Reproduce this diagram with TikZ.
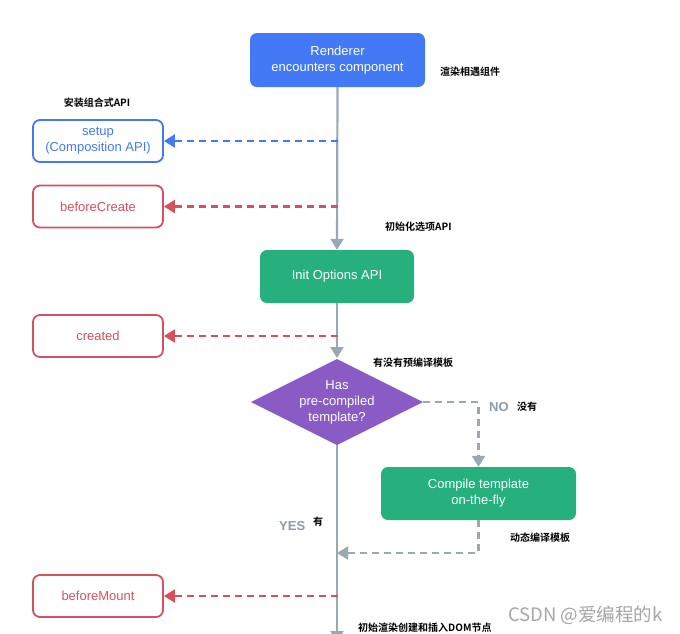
\documentclass[tikz,border=0pt]{standalone}
\usepackage{fontspec}
\setmainfont{Liberation Sans}
\newfontfamily\cjk{Noto Sans CJK SC}[BoldFont={Noto Sans CJK SC Bold}]
\usetikzlibrary{arrows.meta}
\definecolor{cblue}{HTML}{4479F5}
\definecolor{cred}{HTML}{D9505C}
\definecolor{cgreen}{HTML}{26B07E}
\definecolor{cpurple}{HTML}{8A5BC4}
\definecolor{cgray}{HTML}{9AA9B1}
\definecolor{ctxtgray}{HTML}{8E9CA6}
\tikzset{
  solidbox/.style={rounded corners=7pt, fill=#1, text=white, align=center, inner sep=2pt},
  hookbox/.style={rounded corners=7pt, draw=#1, line width=1.8pt, fill=white, text=#1, align=center,
    minimum width=130pt, minimum height=42pt, inner sep=2pt},
  tipT/.style={-{Triangle[width=13pt,length=11pt]}},
  mainline/.style={draw=cgray, line width=2.2pt, tipT, color=cgray},
  dashline/.style={draw=#1, color=#1, line width=2.2pt, dash pattern=on 7pt off 5pt, -{Triangle[width=13pt,length=11pt]}},
  cjklabel/.style={font=\cjk\bfseries\fontsize{10}{12}\selectfont, text=black, inner sep=0pt},
  yesno/.style={font=\bfseries\fontsize{13}{15}\selectfont, text=ctxtgray, inner sep=0pt}
}
\begin{document}
\begin{tikzpicture}[x=1pt,y=-1pt, font=\fontsize{13}{16}\selectfont]
\useasboundingbox (0,0) rectangle (680,633);
\fill[white] (0,0) rectangle (680,633);

% nodes
\node[solidbox=cblue, minimum width=175pt, minimum height=54pt] (ren) at (337.5,60) {Renderer\\encounters component};
\node[hookbox=cblue] (setup) at (98,141) {setup\\(Composition API)};
\node[hookbox=cred] (bc) at (98,206.5) {beforeCreate};
\node[solidbox=cgreen, minimum width=154pt, minimum height=53pt] (init) at (337,276.5) {Init Options API};
\node[hookbox=cred] (created) at (98,336) {created};
\fill[cpurple] (251,402) -- (337,359) -- (423,402) -- (337,445) -- cycle;
\coordinate (diaT) at (337,358);
\coordinate (diaB) at (337,445);
\coordinate (diaR) at (423,402);
\node[text=white, align=center, inner sep=0pt] (dia) at (337,402) {Has\\pre-compiled\\template?};
\node[solidbox=cgreen, minimum width=195pt, minimum height=53pt] (comp) at (478.5,493.5) {Compile template\\on-the-fly};
\node[hookbox=cred] (bm) at (98,596) {beforeMount};
\coordinate (bottom) at (337,642);
\coordinate (join) at (337,553);

% main flow
\draw[mainline] (ren.south) -- (init.north);
\draw[mainline] (init.south) -- (diaT);
\draw[mainline] (diaB) -- (bottom);

% hooks
\draw[dashline=cblue] (ren.south |- setup.east) -- (setup.east);
\draw[dashline=cred] (ren.south |- bc.east) -- (bc.east);
\draw[dashline=cred] (ren.south |- created.east) -- (created.east);
\draw[dashline=cred] (ren.south |- bm.east) -- (bm.east);

% compile branch
\draw[dashline=cgray] (diaR) -| (comp.north);
\draw[dashline=cgray] (comp.south) |- (join);

% labels
\node[cjklabel, anchor=west] (l1) at (440,72) {渲染相遇组件};
\node[cjklabel] (l2) at (97,103) {安装组合式API};
\node[cjklabel, anchor=west] (l3) at (385,227) {初始化选项API};
\node[cjklabel, anchor=west] (l4) at (373,363) {有没有预编译模板};
\node[yesno, anchor=west] (no) at (489,407) {NO};
\node[cjklabel, anchor=west] (l5) at (517,407) {没有};
\node[cjklabel, anchor=west] (l6) at (510,538) {动态编译模板};
\node[yesno, anchor=west] (yes) at (279,526) {YES};
\node[cjklabel, anchor=west] (l7) at (313,522) {有};
\node[cjklabel, anchor=west] (l8) at (358,628) {初始渲染创建和插入DOM节点};
\node[font=\cjk\fontsize{18.5}{20}\selectfont, text=black!35, anchor=west, inner sep=0pt] (wm) at (508,615) {CSDN @爱编程的k};
\end{tikzpicture}
\end{document}
